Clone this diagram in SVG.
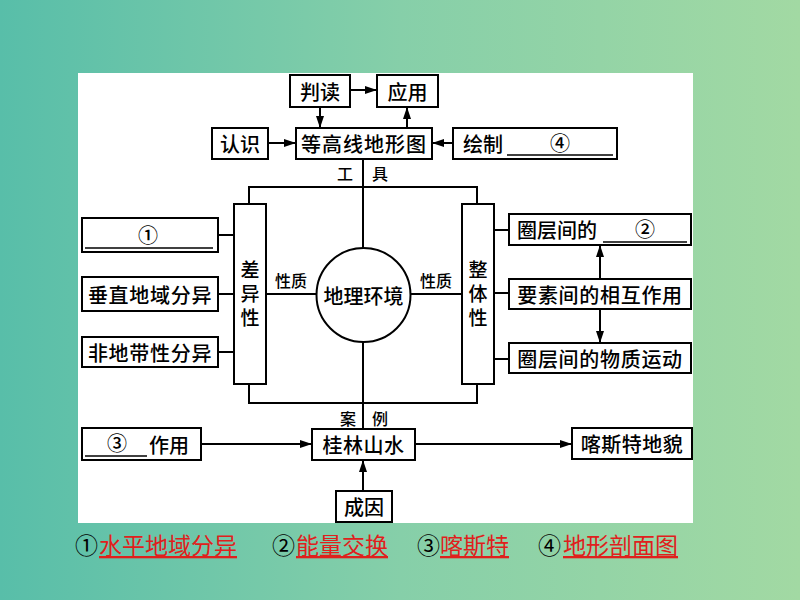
<svg xmlns="http://www.w3.org/2000/svg" width="800" height="600" viewBox="0 0 800 600">
<defs>
<linearGradient id="bg" x1="0" y1="0" x2="1" y2="0">
<stop offset="0" stop-color="#58bea9"/>
<stop offset="0.5" stop-color="#86cfa9"/>
<stop offset="1" stop-color="#a2d9a3"/>
</linearGradient>
<marker id="ah" viewBox="0 0 12 8" refX="12" refY="4" markerWidth="12" markerHeight="8" markerUnits="userSpaceOnUse" orient="auto">
<path d="M0,0 L12,4 L0,8 Z" fill="#000"/>
</marker>
<style>
.box{fill:#fff;stroke:#000;stroke-width:2}
.t{font-family:"Noto Sans CJK SC","Noto Sans",sans-serif;font-size:20px;font-weight:500;fill:#000;text-anchor:middle;dominant-baseline:central}
.v{font-family:"Noto Sans CJK SC","Noto Sans",sans-serif;font-size:19px;font-weight:500;fill:#000;text-anchor:middle;writing-mode:vertical-rl;letter-spacing:5px}
.s{font-family:"Noto Sans CJK SC","Noto Sans",sans-serif;font-size:16px;font-weight:500;fill:#000;text-anchor:middle;dominant-baseline:central}
.ln{stroke:#000;stroke-width:2;fill:none}
.ar{stroke:#000;stroke-width:2;fill:none;marker-end:url(#ah)}
.ul{stroke:#000;stroke-width:1.5}
.lg{font-family:"Noto Sans CJK SC",sans-serif;font-size:23px}
.red{fill:#e0201c;text-decoration:underline}
</style>
</defs>
<rect x="0" y="0" width="800" height="600" fill="url(#bg)"/>
<rect x="78" y="73" width="615" height="450" fill="#fff"/>

<g id="connectors">
<rect x="249" y="187" width="228" height="216" class="ln"/>
<line x1="363" y1="159" x2="363" y2="248" class="ln"/>
<line x1="363" y1="342" x2="363" y2="429" class="ln"/>
<line x1="266" y1="294" x2="317" y2="294" class="ln"/>
<line x1="410" y1="294" x2="462" y2="294" class="ln"/>
<line x1="218" y1="235" x2="234" y2="235" class="ln"/>
<line x1="218" y1="294" x2="234" y2="294" class="ln"/>
<line x1="218" y1="352" x2="234" y2="352" class="ln"/>
<line x1="494" y1="230" x2="509" y2="230" class="ln"/>
<line x1="494" y1="293" x2="509" y2="293" class="ln"/>
<line x1="494" y1="359" x2="509" y2="359" class="ln"/>
<line x1="350" y1="90" x2="377" y2="90" class="ar"/>
<line x1="320" y1="107" x2="320" y2="128" class="ar"/>
<line x1="407" y1="128" x2="407" y2="107" class="ar"/>
<line x1="268" y1="143" x2="296" y2="143" class="ar"/>
<line x1="453" y1="143" x2="432" y2="143" class="ar"/>
<line x1="600" y1="279" x2="600" y2="245" class="ar"/>
<line x1="600" y1="309" x2="600" y2="343" class="ar"/>
<line x1="201" y1="444" x2="312" y2="444" class="ar"/>
<line x1="415" y1="444" x2="572" y2="444" class="ar"/>
<line x1="363" y1="491" x2="363" y2="460" class="ar"/>
<text x="345" y="173" class="s">工</text>
<text x="380" y="173" class="s">具</text>
<text x="291" y="280" class="s">性质</text>
<text x="436" y="280" class="s">性质</text>
<text x="348" y="418" class="s">案</text>
<text x="380" y="418" class="s">例</text>
</g>

<g id="n-pandu"><rect x="290" y="75" width="60" height="32" class="box"/><text x="320" y="91" class="t">判读</text></g>
<g id="n-yingyong"><rect x="377" y="75" width="61" height="32" class="box"/><text x="407.5" y="91" class="t">应用</text></g>
<g id="n-renshi"><rect x="212" y="128" width="56" height="31" class="box"/><text x="240" y="143.5" class="t">认识</text></g>
<g id="n-dgx"><rect x="296" y="128" width="136" height="31" class="box"/><text x="364" y="143.5" class="t" letter-spacing="1">等高线地形图</text></g>
<g id="n-huizhi"><rect x="453" y="128" width="164" height="31" class="box"/><text x="483" y="143.5" class="t">绘制</text><line x1="507" y1="155" x2="613" y2="155" class="ul"/><text x="560" y="142" class="t">④</text></g>

<g id="n-1"><rect x="82" y="218" width="136" height="34" class="box"/><line x1="85" y1="248" x2="213" y2="248" class="ul"/><text x="148" y="234" class="t">①</text></g>
<g id="n-chuizhi"><rect x="82" y="277" width="136" height="34" class="box"/><text x="150" y="294" class="t" letter-spacing="0.7">垂直地域分异</text></g>
<g id="n-fei"><rect x="82" y="337" width="136" height="30" class="box"/><text x="150" y="352" class="t" letter-spacing="0.7">非地带性分异</text></g>

<g id="n-chayi"><rect x="234" y="204" width="32" height="180" class="box"/><text x="250" y="296" class="v">差异性</text></g>
<g id="n-huanjing"><circle cx="363.5" cy="295" r="47" class="box"/><text x="363.5" y="295" class="t">地理环境</text></g>
<g id="n-zhengti"><rect x="462" y="204" width="32" height="180" class="box"/><text x="478" y="296" class="v">整体性</text></g>

<g id="n-2"><rect x="509" y="214" width="182" height="31" class="box"/><text x="557" y="229.5" class="t">圈层间的</text><line x1="603" y1="242" x2="687" y2="242" class="ul"/><text x="645" y="228" class="t">②</text></g>
<g id="n-yaosu"><rect x="509" y="279" width="182" height="30" class="box"/><text x="600" y="294" class="t" letter-spacing="0.7">要素间的相互作用</text></g>
<g id="n-wuzhi"><rect x="509" y="343" width="182" height="30" class="box"/><text x="600" y="358" class="t" letter-spacing="0.7">圈层间的物质运动</text></g>

<g id="n-3"><rect x="82" y="428" width="119" height="32" class="box"/><line x1="85" y1="456" x2="147" y2="456" class="ul"/><text x="117" y="442" class="t">③</text><text x="169" y="444" class="t">作用</text></g>
<g id="n-guilin"><rect x="312" y="429" width="103" height="31" class="box"/><text x="363.5" y="444.5" class="t" letter-spacing="0.5">桂林山水</text></g>
<g id="n-kasite"><rect x="572" y="428" width="120" height="31" class="box"/><text x="632" y="443.5" class="t" letter-spacing="0.5">喀斯特地貌</text></g>
<g id="n-chengyin"><rect x="336" y="491" width="56" height="31" class="box"/><text x="364" y="506.5" class="t">成因</text></g>

<g id="legend" class="lg">
<text x="75" y="554">①</text><text x="99" y="554" class="red">水平地域分异</text>
<text x="272" y="554">②</text><text x="296" y="554" class="red">能量交换</text>
<text x="417" y="554">③</text><text x="440" y="554" class="red">喀斯特</text>
<text x="538" y="554">④</text><text x="563" y="554" class="red">地形剖面图</text>
</g>
</svg>
